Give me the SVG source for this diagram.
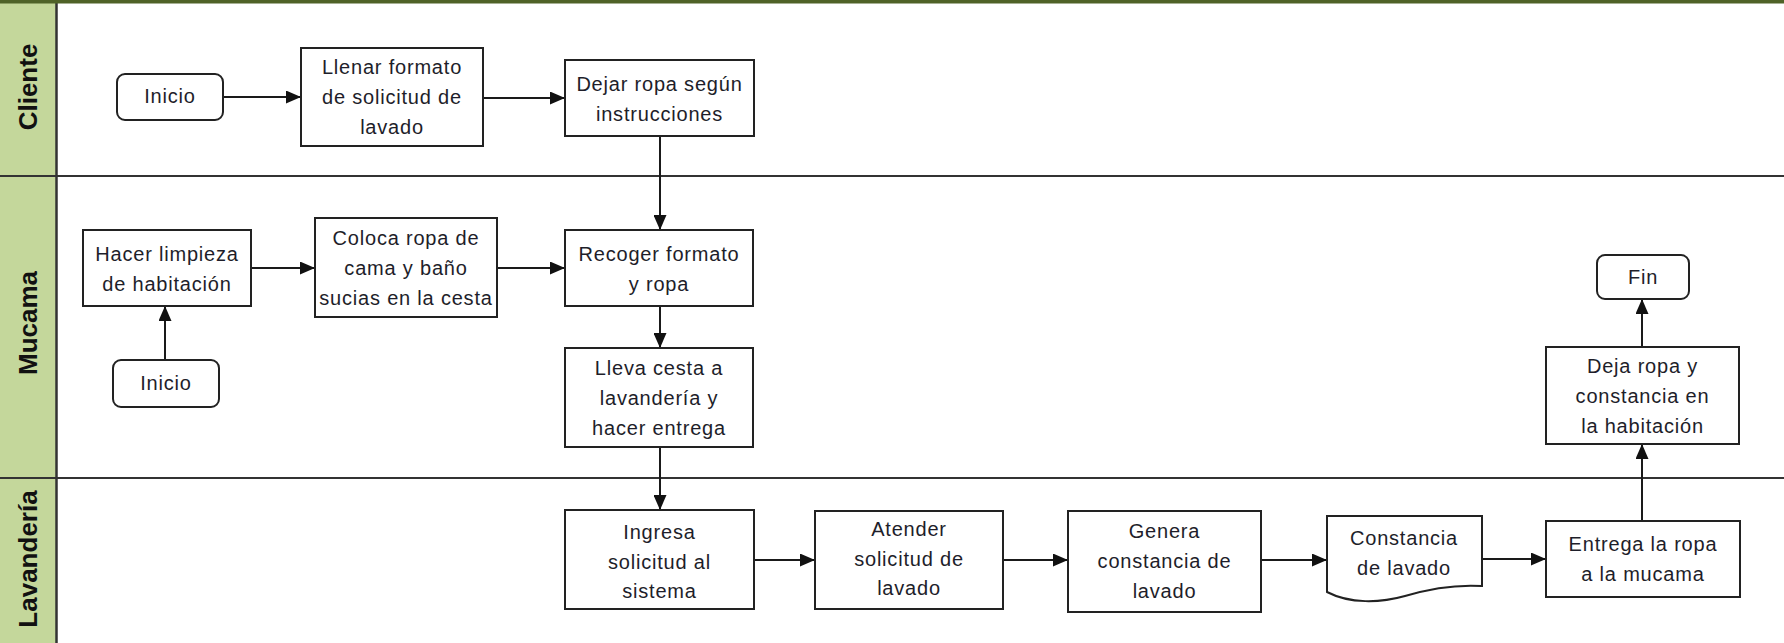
<svg xmlns="http://www.w3.org/2000/svg" width="1784" height="643" viewBox="0 0 1784 643">
<style>
.box{fill:#fff;stroke:#222;stroke-width:2}
.t{font-family:"Liberation Sans",Arial,sans-serif;font-size:20px;letter-spacing:0.8px;fill:#1e1e2a;text-anchor:middle}
.lane{font-family:"Liberation Sans",Arial,sans-serif;font-size:26px;font-weight:bold;fill:#111;text-anchor:middle;dominant-baseline:central}
.c{stroke:#1a1a1a;stroke-width:2;fill:none;marker-end:url(#ah)}
.div{stroke:#333;stroke-width:2}
</style>
<defs>
<marker id="ah" markerUnits="userSpaceOnUse" markerWidth="15" markerHeight="13" refX="15" refY="6.5" orient="auto">
<path d="M0,0 L15,6.5 L0,13 Z" fill="#111"/>
</marker>
</defs>
<rect x="0" y="0" width="1784" height="643" fill="#fff"/>
<g id="lanes">
<rect x="0" y="0" width="56" height="643" fill="#c4d79b"/>
<line class="div" x1="0" y1="176" x2="1784" y2="176"/>
<line class="div" x1="0" y1="478" x2="1784" y2="478"/>
<line x1="56.5" y1="0" x2="56.5" y2="643" stroke="#333" stroke-width="2.5"/>
<rect x="0" y="0" width="1784" height="3.5" fill="#4f6228"/>
<text class="lane" transform="translate(28,87) rotate(-90)">Cliente</text>
<text class="lane" transform="translate(28,323) rotate(-90)">Mucama</text>
<text class="lane" transform="translate(28,559) rotate(-90)">Lavandería</text>
</g>
<g id="connectors">
<path class="c" d="M223,97 H301"/>
<path class="c" d="M483,98 H565"/>
<path class="c" d="M660,136 V230"/>
<path class="c" d="M251,268 H315"/>
<path class="c" d="M497,268 H565"/>
<path class="c" d="M165,360 V306"/>
<path class="c" d="M660,306 V348"/>
<path class="c" d="M660,447 V510"/>
<path class="c" d="M754,560 H815"/>
<path class="c" d="M1003,560 H1068"/>
<path class="c" d="M1261,560 H1327"/>
<path class="c" d="M1482,559 H1546"/>
<path class="c" d="M1642,521 V444"/>
<path class="c" d="M1642,347 V299"/>
</g>
<g id="inicio-cliente">
<rect class="box" x="117" y="74" width="106" height="46" rx="8"/>
<text class="t" x="170" y="103">Inicio</text>
</g>
<g id="llenar">
<rect class="box" x="301" y="48" width="182" height="98"/>
<text class="t" x="392" y="74">Llenar formato</text>
<text class="t" x="392" y="104">de solicitud de</text>
<text class="t" x="392" y="134">lavado</text>
</g>
<g id="dejar">
<rect class="box" x="565" y="60" width="189" height="76"/>
<text class="t" x="659.5" y="91">Dejar ropa según</text>
<text class="t" x="659.5" y="121">instrucciones</text>
</g>
<g id="hacer">
<rect class="box" x="83" y="230" width="168" height="76"/>
<text class="t" x="167" y="261">Hacer limpieza</text>
<text class="t" x="167" y="291">de habitación</text>
</g>
<g id="inicio-mucama">
<rect class="box" x="113" y="360" width="106" height="47" rx="8"/>
<text class="t" x="166" y="390">Inicio</text>
</g>
<g id="coloca">
<rect class="box" x="315" y="218" width="182" height="99"/>
<text class="t" x="406" y="245">Coloca ropa de</text>
<text class="t" x="406" y="275">cama y baño</text>
<text class="t" x="406" y="305">sucias en la cesta</text>
</g>
<g id="recoger">
<rect class="box" x="565" y="230" width="188" height="76"/>
<text class="t" x="659" y="261">Recoger formato</text>
<text class="t" x="659" y="291">y ropa</text>
</g>
<g id="lleva">
<rect class="box" x="565" y="348" width="188" height="99"/>
<text class="t" x="659" y="375">Lleva cesta a</text>
<text class="t" x="659" y="405">lavandería y</text>
<text class="t" x="659" y="435">hacer entrega</text>
</g>
<g id="ingresa">
<rect class="box" x="565" y="510" width="189" height="99"/>
<text class="t" x="659.5" y="539">Ingresa</text>
<text class="t" x="659.5" y="569">solicitud al</text>
<text class="t" x="659.5" y="598">sistema</text>
</g>
<g id="atender">
<rect class="box" x="815" y="511" width="188" height="98"/>
<text class="t" x="909" y="536">Atender</text>
<text class="t" x="909" y="566">solicitud de</text>
<text class="t" x="909" y="595">lavado</text>
</g>
<g id="genera">
<rect class="box" x="1068" y="511" width="193" height="101"/>
<text class="t" x="1164.5" y="538">Genera</text>
<text class="t" x="1164.5" y="568">constancia de</text>
<text class="t" x="1164.5" y="598">lavado</text>
</g>
<g id="constancia">
<path class="box" d="M1327,516 H1482 V586 C1450,584 1425,590 1405,596 C1380,603 1350,604 1327,592 Z"/>
<text class="t" x="1404" y="545">Constancia</text>
<text class="t" x="1404" y="575">de lavado</text>
</g>
<g id="entrega">
<rect class="box" x="1546" y="521" width="194" height="76"/>
<text class="t" x="1643" y="551">Entrega la ropa</text>
<text class="t" x="1643" y="581">a la mucama</text>
</g>
<g id="deja">
<rect class="box" x="1546" y="347" width="193" height="97"/>
<text class="t" x="1642.5" y="373">Deja ropa y</text>
<text class="t" x="1642.5" y="403">constancia en</text>
<text class="t" x="1642.5" y="433">la habitación</text>
</g>
<g id="fin">
<rect class="box" x="1597" y="255" width="92" height="44" rx="8"/>
<text class="t" x="1643" y="284">Fin</text>
</g>
</svg>
